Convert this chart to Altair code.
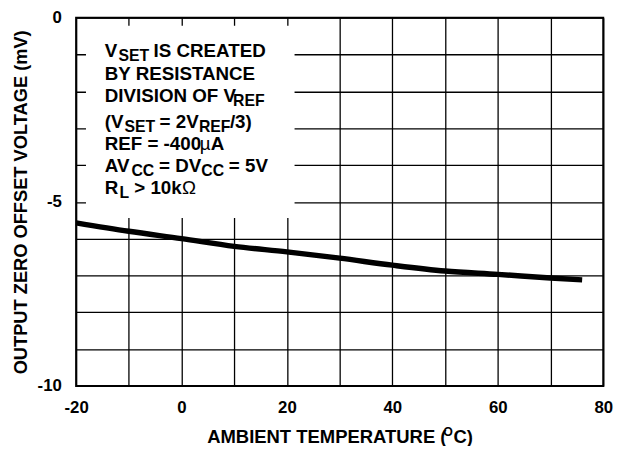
import altair as alt
import pandas as pd

# ---- data ----
temp_c = [-20, -10, 0, 10, 20, 30, 40, 50, 60, 70, 76]
offset_mv = [-5.57, -5.80, -6.00, -6.21, -6.36, -6.53, -6.72, -6.88, -6.97, -7.07, -7.12]

x_ticks = list(range(-20, 81, 10))
y_ticks = list(range(-10, 1, 1))

note_lines = [
    [("V", "main"), ("SET", "sub"), (" IS CREATED", "main")],
    [("BY RESISTANCE", "main")],
    [("DIVISION OF V", "main"), ("REF", "sub")],
    [("(V", "main"), ("SET", "sub"), (" = 2V", "main"), ("REF", "sub"), ("/3)", "main")],
    [("REF = -400", "main"), ("\u00b5", "sym"), ("A", "main")],
    [("AV", "main"), ("CC", "sub"), (" = DV", "main"), ("CC", "sub"), (" = 5V", "main")],
    [("R", "main"), ("L", "sub"), (" > 10k", "main"), ("\u03a9", "sym")],
]
x_title = [("AMBIENT TEMPERATURE (", "title"), ("O", "sup"), ("C)", "title")]
y_title = "OUTPUT ZERO OFFSET VOLTAGE (mV)"

# ---- layout ----
FONT = "Liberation Sans"
W, H = 534, 373
STYLE = {  # size, weight, baseline shift (px), gap before (px)
    "main": (19, "bold", 0, 0.5),
    "sub": (16, "bold", 4, 1.6),
    "sym": (19, "normal", 0, 2.0),
    "title": (18.7, "bold", 0, 1.0),
    "sup": (12.5, "bold", -7, 3.5),
}
BOLD_W = {' ': 278, '(': 333, ')': 333, '-': 333, '/': 278, '=': 584, '>': 584,
          'A': 722, 'B': 722, 'C': 722, 'D': 722, 'E': 667, 'F': 611, 'G': 778,
          'I': 278, 'L': 611, 'M': 833, 'N': 722, 'O': 778, 'P': 667, 'R': 722,
          'S': 667, 'T': 611, 'U': 722, 'V': 667, 'Y': 667, 'Z': 611, 'k': 556,
          'm': 889, '\u00b5': 576, '\u03a9': 768}
for d in "0123456789":
    BOLD_W[d] = 556
K = 0.965


def text_w(s, size):
    return sum(BOLD_W.get(c, 600) for c in s) * size / 1000.0 * K


def px2x(p):
    return -20 + p / W * 100


def py2y(p):
    return -p / H * 10


def place(segs, x0, base, rows):
    cx = x0
    for i, (txt, kind) in enumerate(segs):
        size, _, shift, gap = STYLE[kind]
        if i > 0:
            cx += gap
        lead = len(txt) - len(txt.lstrip(" "))
        cx += text_w(" " * lead, size)
        body = txt.strip(" ")
        rows.append({"t": body, "kind": kind, "T": px2x(cx), "V": py2y(base + shift)})
        cx += text_w(body, size)
    return cx - x0


rows = []
baselines = [40.0, 63.3, 85.7, 111.7, 134.0, 156.7, 178.3]
for segs, base in zip(note_lines, baselines):
    place(segs, 29.0, base, rows)

tot = place(x_title, 0, 0, [])
place(x_title, W / 2 - tot / 2, 431, rows)

text_df = pd.DataFrame(rows)
curve_df = pd.DataFrame({"T": temp_c, "V": offset_mv})
box_df = pd.DataFrame({"T": [px2x(10)], "T2": [px2x(221.3)],
                       "V": [py2y(8)], "V2": [py2y(203)]})

xs = alt.Scale(domain=[-20, 80], nice=False, zero=False)
ys = alt.Scale(domain=[-10, 0], nice=False, zero=False)

x_axis = alt.Axis(
    values=x_ticks, title="", grid=True, ticks=False, domain=False,
    labelExpr="datum.value % 20 == 0 ? '' + datum.value : ''",
    labelPadding=14, labelFontSize=17, labelFont=FONT, labelFontWeight="bold",
    labelColor="black", labelFlush=False, labelOverlap=False,
    gridColor="black", gridWidth=1.3, gridOpacity=1)
y_axis = alt.Axis(
    values=y_ticks, title=y_title, grid=True, ticks=False, domain=False,
    labelExpr="datum.value % 5 == 0 ? '' + datum.value : ''",
    labelPadding=15, labelFontSize=17, labelFont=FONT, labelFontWeight="bold",
    labelColor="black", labelFlush=False, labelOverlap=False,
    labelAlign="right", labelBaseline="middle",
    gridColor="black", gridWidth=1.3, gridOpacity=1,
    titleX=-50.7, titleY=186.5, titleAngle=270, titleAlign="center",
    titleBaseline="alphabetic", titleFont=FONT, titleFontSize=18.5,
    titleFontWeight="bold", titleColor="black")

box = alt.Chart(box_df).mark_rect(fill="white").encode(
    x=alt.X("T:Q", scale=xs, axis=x_axis), x2="T2",
    y=alt.Y("V:Q", scale=ys, axis=y_axis), y2="V2",
)

line = alt.Chart(curve_df).mark_line(
    color="black", strokeWidth=5.5, interpolate="monotone", strokeCap="butt"
).encode(
    x=alt.X("T:Q", scale=xs, axis=x_axis),
    y=alt.Y("V:Q", scale=ys, axis=y_axis),
)

layers = [box]
for kind, (size, weight, _, _) in STYLE.items():
    sub = text_df[text_df["kind"] == kind]
    if len(sub) == 0:
        continue
    layers.append(
        alt.Chart(sub).mark_text(
            align="left", baseline="alphabetic", font=FONT, fontSize=size,
            fontWeight=weight, color="black"
        ).encode(
            x=alt.X("T:Q", scale=xs, axis=x_axis),
            y=alt.Y("V:Q", scale=ys, axis=y_axis),
            text="t:N",
        )
    )
layers.append(line)

chart = alt.layer(*layers).properties(
    width=W, height=H,
    autosize=alt.AutoSizeParams(type="none"),
    padding={"left": 69, "top": 7, "right": 18, "bottom": 58},
    background="white",
).configure_view(stroke="black", strokeWidth=2)

chart.save("out.html", embed_options={"renderer": "svg", "actions": False})
